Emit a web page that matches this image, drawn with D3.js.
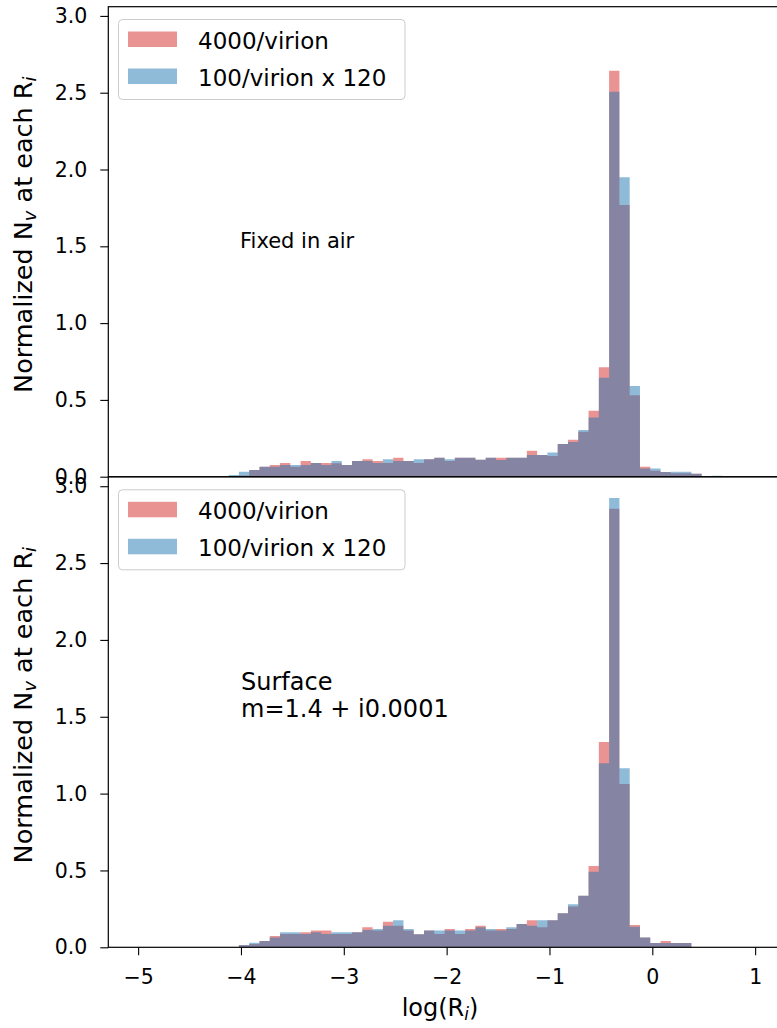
<!DOCTYPE html>
<html><head><meta charset="utf-8">
<script src="https://cdn.jsdelivr.net/npm/d3@7"></script>
<style>body{margin:0;background:#fff} text{font-family:"DejaVu Sans",sans-serif;fill:#000}</style>
</head><body><svg id="c" width="777" height="1028"></svg>
<script>
// ---------- data ----------
const binWidth = 0.1;
const topStart = -4.12;
const topRed  = [0,0.008,0.043,0.065,0.076,0.089,0.065,0.102,0.089,0.089,0.087,0.076,0.102,0.113,0.102,0.089,0.124,0.102,0.089,0.113,0.124,0.102,0.124,0.124,0.110,0.124,0.124,0.124,0.124,0.169,0.141,0.135,0.213,0.240,0.293,0.430,0.712,2.643,1.769,0.530,0.065,0.039,0.030,0.022,0.022,0.020,0,0];
const topBlue = [0.011,0.033,0.043,0.065,0.065,0.076,0.076,0.076,0.089,0.076,0.102,0.076,0.102,0.102,0.089,0.113,0.102,0.102,0.113,0.113,0.124,0.113,0.124,0.124,0.110,0.124,0.108,0.124,0.124,0.141,0.141,0.158,0.213,0.226,0.304,0.385,0.645,2.507,1.949,0.590,0.054,0.054,0.030,0.033,0.033,0.020,0,0.007];
const botStart = -4.02;
const botRed  = [0.013,0.022,0.041,0.074,0.087,0.087,0.098,0.109,0.109,0.087,0.087,0.098,0.130,0.109,0.167,0.141,0.109,0.085,0.109,0.087,0.119,0.087,0.119,0.141,0.109,0.119,0.119,0.152,0.176,0.130,0.176,0.221,0.266,0.336,0.529,1.335,2.853,1.063,0.145,0.063,0.028,0.041,0.028,0.028];
const botBlue = [0.015,0.030,0.041,0.063,0.098,0.098,0.087,0.098,0.087,0.098,0.098,0.098,0.113,0.119,0.141,0.176,0.119,0.085,0.109,0.109,0.109,0.109,0.109,0.130,0.119,0.109,0.130,0.152,0.141,0.176,0.176,0.221,0.280,0.336,0.492,1.198,2.923,1.165,0.134,0.063,0.028,0.028,0.028,0.028];
const seriesNames = ["4000/virion", "100/virion x 120"];
const yTicks = [0, 0.5, 1, 1.5, 2, 2.5, 3];
const xTicks = [-5, -4, -3, -2, -1, 0, 1];
const annotTop = ["Fixed in air"];
const annotBot = ["Surface", "m=1.4 + i0.0001"];

// ---------- layout ----------
const svg = d3.select("#c");
const FS = 20.5, FL = 23, FLAB = 25.5, FXL = 24;
const colors = ["#d62728", "#1f77b4"];
const x = d3.scaleLinear().domain([-5.29, 1.3]).range([108.3, 786]);
const panels = [
  {top: 6.7, bottom: 476.7, red: topRed, blue: topBlue, start: topStart, annot: annotTop, ann: [240, 248], afs: 21, showX: false},
  {top: 477.0, bottom: 947.3, red: botRed, blue: botBlue, start: botStart, annot: annotBot, ann: [241, 689.5], afs: 24, showX: true}
];

panels.forEach((p, pi) => {
  const g = svg.append("g");
  const y = d3.scaleLinear().domain([0, 3.06]).range([p.bottom, p.top]);
  g.append("rect").attr("x", x.range()[0]).attr("y", p.top)
    .attr("width", x.range()[1] - x.range()[0]).attr("height", p.bottom - p.top).attr("fill", "#fff");

  const area = d3.area().curve(d3.curveStepAfter)
    .x(d => x(d[0])).y0(y(0)).y1(d => y(d[1]));
  [p.red, p.blue].forEach((vals, si) => {
    const pts = vals.map((v, i) => [p.start + i * binWidth, v]);
    pts.push([p.start + vals.length * binWidth, vals[vals.length - 1]]);
    g.append("path").attr("d", area(pts)).attr("fill", colors[si]).attr("fill-opacity", 0.5);
  });

  const ya = g.append("g").attr("transform", `translate(${x.range()[0]},0)`)
    .call(d3.axisLeft(y).tickValues(yTicks).tickFormat(d3.format(".1f")).tickSize(8).tickPadding(13));
  ya.select(".domain").remove();
  ya.selectAll("line").attr("stroke", "#000").attr("stroke-width", 1.1);
  ya.selectAll("text").attr("font-size", FS).attr("font-family", "DejaVu Sans").attr("fill", "#000");

  if (p.showX) {
    const xa = g.append("g").attr("transform", `translate(0,${p.bottom})`)
      .call(d3.axisBottom(x).tickValues(xTicks).tickFormat(d3.format("d")).tickSize(8).tickPadding(14));
    xa.select(".domain").remove();
    xa.selectAll("line").attr("stroke", "#000").attr("stroke-width", 1.1);
    xa.selectAll("text").attr("font-size", FS).attr("font-family", "DejaVu Sans").attr("fill", "#000");
  }

  g.append("rect").attr("x", x.range()[0]).attr("y", p.top)
    .attr("width", x.range()[1] - x.range()[0]).attr("height", p.bottom - p.top)
    .attr("fill", "none").attr("stroke", "#000").attr("stroke-width", 1.2);

  // y label
  const cy = (p.top + p.bottom) / 2 - 7;
  const yl = g.append("text").attr("transform", `translate(32,${cy}) rotate(-90)`)
    .attr("text-anchor", "middle").attr("font-size", FLAB);
  yl.append("tspan").text("Normalized N");
  yl.append("tspan").text("v").attr("font-size", FLAB * 0.7).attr("font-style", "italic").attr("dy", 4);
  yl.append("tspan").text(" at each R").attr("dy", -4);
  yl.append("tspan").text("i").attr("font-size", FLAB * 0.7).attr("font-style", "italic").attr("dy", 4);

  p.annot.forEach((t, i) => {
    g.append("text").attr("x", p.ann[0]).attr("y", p.ann[1] + i * 27).attr("font-size", p.afs).text(t);
  });

  const off = p.top - 6.7;
  const lg = g.append("g").attr("transform", `translate(0,${off})`);
  lg.append("rect").attr("x", 118.5).attr("y", 19.5).attr("width", 286.5).attr("height", 80)
    .attr("rx", 4).attr("fill", "#fff").attr("fill-opacity", 0.8).attr("stroke", "#cccccc").attr("stroke-width", 1);
  seriesNames.forEach((n, i) => {
    lg.append("rect").attr("x", 128).attr("y", 31.5 + i * 37).attr("width", 49).attr("height", 15.5)
      .attr("fill", colors[i]).attr("fill-opacity", 0.5);
    lg.append("text").attr("x", 198).attr("y", 48.5 + i * 37).attr("font-size", FL).text(n);
  });
});

const xl = svg.append("text").attr("x", 440).attr("y", 1016).attr("text-anchor", "middle").attr("font-size", FXL);
xl.append("tspan").text("log(R");
xl.append("tspan").text("i").attr("font-size", FXL * 0.7).attr("font-style", "italic").attr("dy", 4);
xl.append("tspan").text(")").attr("dy", -4);
</script></body></html>
